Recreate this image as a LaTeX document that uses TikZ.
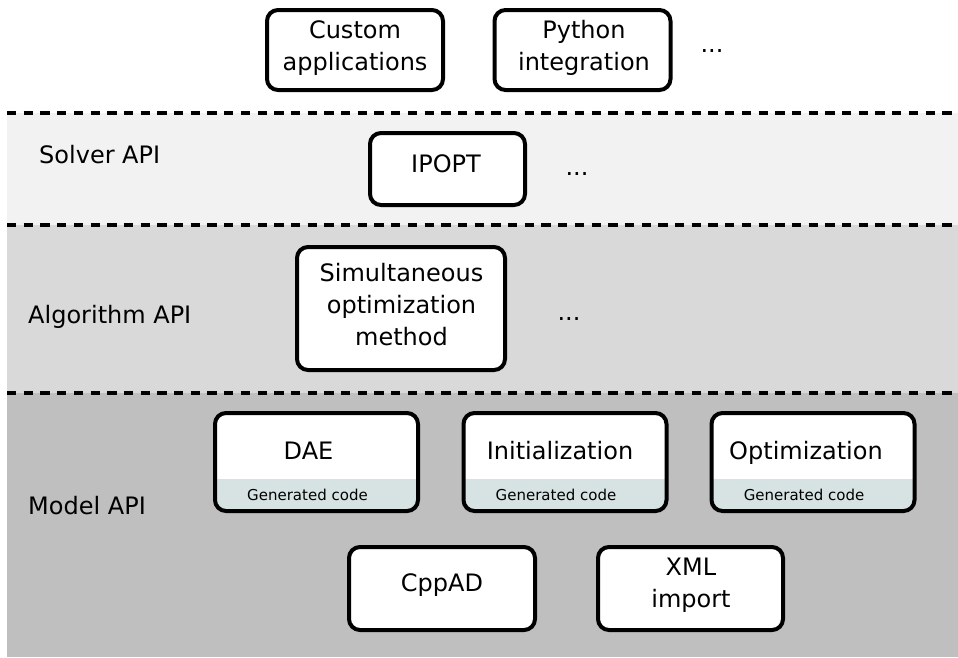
\documentclass[tikz,border=0pt]{standalone}
\usepackage{fontspec}
\setmainfont{DejaVu Sans}
\definecolor{solverbg}{HTML}{F2F2F2}
\definecolor{algbg}{HTML}{D9D9D9}
\definecolor{modelbg}{HTML}{BFBFBF}
\definecolor{gencode}{HTML}{D6E3E2}
\tikzset{
  box/.style={draw, line width=4pt, rounded corners=11pt, fill=white, inner sep=0pt},
  genbox/.style={box, path picture={\fill[gencode, sharp corners] (path picture bounding box.south west) rectangle ([yshift=32pt]path picture bounding box.south east);}},
  lbl/.style={inner sep=0pt, anchor=base west, font=\fontsize{24}{32}\selectfont},
  txt/.style={inner sep=0pt, anchor=base, font=\fontsize{24}{32}\selectfont},
  small/.style={inner sep=0pt, anchor=base, font=\fontsize{15}{18}\selectfont},
  sepline/.style={line width=4pt, dash pattern=on 9.3pt off 7.4pt},
}
\begin{document}
\begin{tikzpicture}[x=1pt,y=-1pt]
\useasboundingbox (0,0) rectangle (958,657);
% bands
\fill[solverbg] (7,112.5) rectangle (958,225);
\fill[algbg] (7,225) rectangle (958,393);
\fill[modelbg] (7,393) rectangle (958,657);
\coordinate (s1a) at (7,112.5); \coordinate (s1b) at (958,112.5);
\coordinate (s2a) at (7,225);   \coordinate (s2b) at (958,225);
\coordinate (s3a) at (7,393);   \coordinate (s3b) at (958,393);
\draw[sepline] (s1a) -- (s1b);
\draw[sepline] (s2a) -- (s2b);
\draw[sepline] (s3a) -- (s3b);
% layer labels
\node[lbl] (lsolver) at (39,163.3) {Solver API};
\node[lbl] (lalg) at (28,323) {Algorithm API};
\node[lbl] (lmodel) at (28,514) {Model API};
% top row
\node[box, minimum width=176pt, minimum height=80pt] (custom) at (355,50) {};
\node[txt] (tcustom) at (355,70) {\begin{tabular}[b]{@{}c@{}}Custom\\applications\end{tabular}};
\node[box, minimum width=176pt, minimum height=80pt] (python) at (582.5,50) {};
\node[txt] (tpython) at (584,70) {\begin{tabular}[b]{@{}c@{}}Python\\integration\end{tabular}};
\node[txt] (dots1) at (712,52) {...};
% solver
\node[box, minimum width=155pt, minimum height=72pt] (ipopt) at (447.5,169) {};
\node[txt] (tipopt) at (446,172.3) {IPOPT};
\node[txt] (dots2) at (577,175) {...};
% algorithm
\node[box, minimum width=208pt, minimum height=123pt] (simul) at (401,308.5) {};
\node[txt] (tsimul) at (401.5,345) {\begin{tabular}[b]{@{}c@{}}Simultaneous\\optimization\\method\end{tabular}};
\node[txt] (dots3) at (569,320) {...};
% model
\node[genbox, minimum width=203pt, minimum height=98pt] (dae) at (316.5,462) {};
\node[txt] (tdae) at (308.5,459) {DAE};
\node[small] (gdae) at (307.5,500.5) {Generated code};
\node[genbox, minimum width=203pt, minimum height=98pt] (init) at (565,462) {};
\node[txt] (tinit) at (560,459.3) {Initialization};
\node[small] (ginit) at (556,500.5) {Generated code};
\node[genbox, minimum width=203pt, minimum height=98pt] (optim) at (813,462) {};
\node[txt] (toptim) at (806,459.3) {Optimization};
\node[small] (goptim) at (804,500.5) {Generated code};
\node[box, minimum width=186pt, minimum height=83pt] (cppad) at (442,588.5) {};
\node[txt] (tcppad) at (442,591) {CppAD};
\node[box, minimum width=185pt, minimum height=83pt] (xml) at (690.5,588.5) {};
\node[txt] (txml) at (691,607.7) {\begin{tabular}[b]{@{}c@{}}XML\\import\end{tabular}};
\end{tikzpicture}
\end{document}
